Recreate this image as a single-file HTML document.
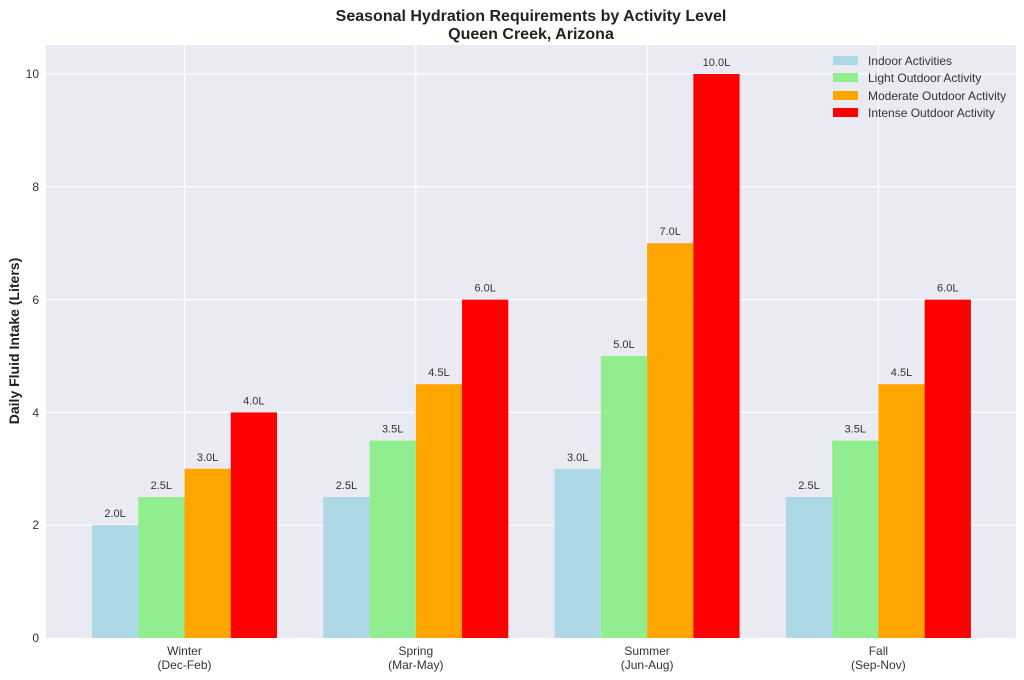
<!DOCTYPE html>
<html><head><meta charset="utf-8"><style>body{margin:0;background:#fff}svg{display:block}text{font-family:"Liberation Sans",sans-serif}</style></head><body>
<svg width="1024" height="680" xmlns="http://www.w3.org/2000/svg">
<rect width="1024" height="680" fill="#fff"/>
<rect x="46" y="45" width="970" height="593" fill="#eaeaf2"/>
<g stroke="#fff" stroke-width="1.2">
<line x1="46" x2="1016" y1="525.2" y2="525.2"/><line x1="46" x2="1016" y1="412.4" y2="412.4"/>
<line x1="46" x2="1016" y1="299.6" y2="299.6"/><line x1="46" x2="1016" y1="186.8" y2="186.8"/>
<line x1="46" x2="1016" y1="74" y2="74"/>
<line x1="184.5" x2="184.5" y1="45" y2="638"/><line x1="415.8" x2="415.8" y1="45" y2="638"/>
<line x1="647.1" x2="647.1" y1="45" y2="638"/><line x1="878.4" x2="878.4" y1="45" y2="638"/>
</g>
<g id="bars"></g>
<g font-size="11" fill="#333" text-anchor="middle" id="labels"></g>
<g font-size="12" fill="#333" text-anchor="end">
<text x="39" y="642">0</text><text x="39" y="529">2</text><text x="39" y="417">4</text><text x="39" y="304">6</text><text x="39" y="191">8</text><text x="39" y="78">10</text>
</g>
<g font-size="12" fill="#333" text-anchor="middle">
<text x="184.5" y="655">Winter</text><text x="184.5" y="669">(Dec-Feb)</text>
<text x="415.8" y="655">Spring</text><text x="415.8" y="669">(Mar-May)</text>
<text x="647.1" y="655">Summer</text><text x="647.1" y="669">(Jun-Aug)</text>
<text x="878.4" y="655">Fall</text><text x="878.4" y="669">(Sep-Nov)</text>
</g>
<text transform="translate(19,341) rotate(-90)" font-size="14" font-weight="bold" fill="#222" text-anchor="middle">Daily Fluid Intake (Liters)</text>
<text x="531" y="21" font-size="16" font-weight="bold" fill="#222" text-anchor="middle">Seasonal Hydration Requirements by Activity Level</text>
<text x="531" y="39" font-size="16" font-weight="bold" fill="#222" text-anchor="middle">Queen Creek, Arizona</text>
<g font-size="12" fill="#333">
<rect x="833" y="56" width="25" height="9" fill="#add8e6"/><text x="868" y="65">Indoor Activities</text>
<rect x="833" y="73" width="25" height="9" fill="#90ee90"/><text x="868" y="82">Light Outdoor Activity</text>
<rect x="833" y="91" width="25" height="9" fill="#ffa500"/><text x="868" y="100">Moderate Outdoor Activity</text>
<rect x="833" y="108" width="25" height="9" fill="#ff0000"/><text x="868" y="117">Intense Outdoor Activity</text>
</g>
<script>
var d=[[2,2.5,3,4],[2.5,3.5,4.5,6],[3,5,7,10],[2.5,3.5,4.5,6]],c=["#add8e6","#90ee90","#ffa500","#ff0000"];
var b=document.getElementById("bars"),l=document.getElementById("labels"),ns="http://www.w3.org/2000/svg";
d.forEach(function(g,i){var cx=184.5+i*231.3;g.forEach(function(v,j){var x=cx-92.5+j*46.25,y=638-v*56.4;
var r=document.createElementNS(ns,"rect");r.setAttribute("x",x);r.setAttribute("y",y);r.setAttribute("width",46.25);r.setAttribute("height",638-y);r.setAttribute("fill",c[j]);b.appendChild(r);
var t=document.createElementNS(ns,"text");t.setAttribute("x",x+23.1);t.setAttribute("y",y-8);t.textContent=v.toFixed(1)+"L";l.appendChild(t);});});
</script>
</svg>
</body></html>
